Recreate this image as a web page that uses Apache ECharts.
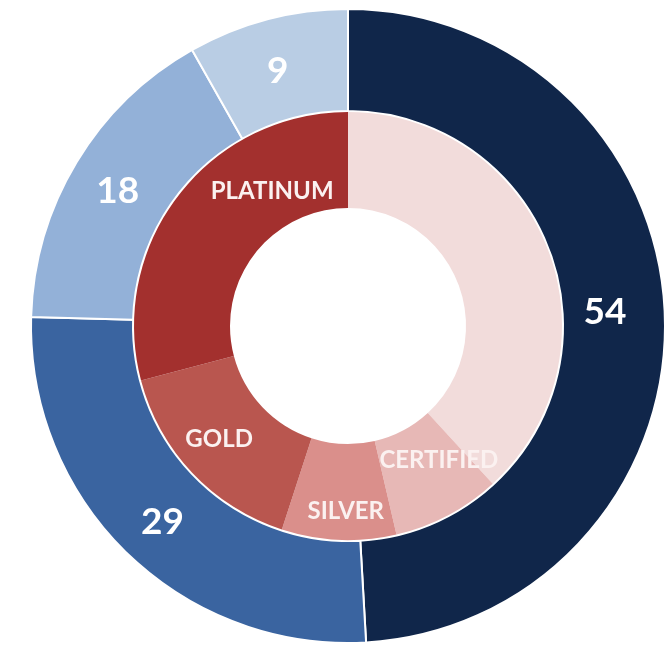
<!DOCTYPE html>
<html>
<head>
<meta charset="utf-8">
<script src="https://cdn.jsdelivr.net/npm/echarts@6/dist/echarts.min.js"></script>
<style>
  html, body { margin: 0; padding: 0; background: #ffffff; }
  #chart { width: 670px; height: 648px; }
</style>
</head>
<body>
<div id="chart"></div>
<script>
// Outer ring values (labelled)
const outerValues = [54, 29, 18, 9];
const outerColors = ['#10264a', '#3a64a0', '#93b1d8', '#b9cde4'];

// Inner ring categories and estimated shares (unlabelled values)
const innerNames = ['', 'CERTIFIED', 'SILVER', 'GOLD', 'PLATINUM'];
const innerValues = [42, 9, 9.5, 17.5, 32];
const innerColors = ['#f2dcdb', '#e7b8b6', '#da8f8b', '#b9564f', '#a3302e'];

const chart = echarts.init(document.getElementById('chart'), null, { renderer: 'canvas' });

const fontFamily = 'Lato, "Open Sans", "DejaVu Sans", sans-serif';

// Small visual nudges for labels (layout only)
const outerNudge = [[-12, -6], [2, 3], [0, 4], [-2, 5]];
const innerNudge = { 'PLATINUM': [58, -32], 'SILVER': [5, 16], 'CERTIFIED': [12, -15], 'GOLD': [-6, -3] };

chart.setOption({
  backgroundColor: '#ffffff',
  animation: false,
  series: [
    {
      type: 'pie',
      center: [348, 326],
      radius: [215, 317],
      startAngle: 90,
      clockwise: true,
      silent: true,
      itemStyle: { borderColor: '#ffffff', borderWidth: 2 },
      label: {
        show: true,
        position: 'inside',
        formatter: '{c}',
        color: '#ffffff',
        fontFamily: fontFamily,
        fontWeight: 'bold',
        fontSize: 37
      },
      labelLine: { show: false },
      labelLayout: function (params) {
        const d = outerNudge[params.dataIndex] || [0, 0];
        return { dx: d[0], dy: d[1] };
      },
      data: outerValues.map((v, i) => ({ value: v, name: 'o' + i, itemStyle: { color: outerColors[i] } }))
    },
    {
      type: 'pie',
      center: [348, 326],
      radius: [118, 214],
      startAngle: 90,
      clockwise: true,
      silent: true,
      itemStyle: { borderWidth: 0 },
      label: {
        show: true,
        position: 'inside',
        formatter: '{b}',
        color: '#fbf1f0',
        fontFamily: fontFamily,
        fontWeight: 'bold',
        fontSize: 24
      },
      labelLine: { show: false },
      labelLayout: function (params) {
        const n = innerNames[params.dataIndex];
        const d = innerNudge[n] || [0, 0];
        return { dx: d[0], dy: d[1] };
      },
      data: innerValues.map((v, i) => ({ value: v, name: innerNames[i], itemStyle: { color: innerColors[i] } }))
    }
  ]
});
</script>
</body>
</html>
